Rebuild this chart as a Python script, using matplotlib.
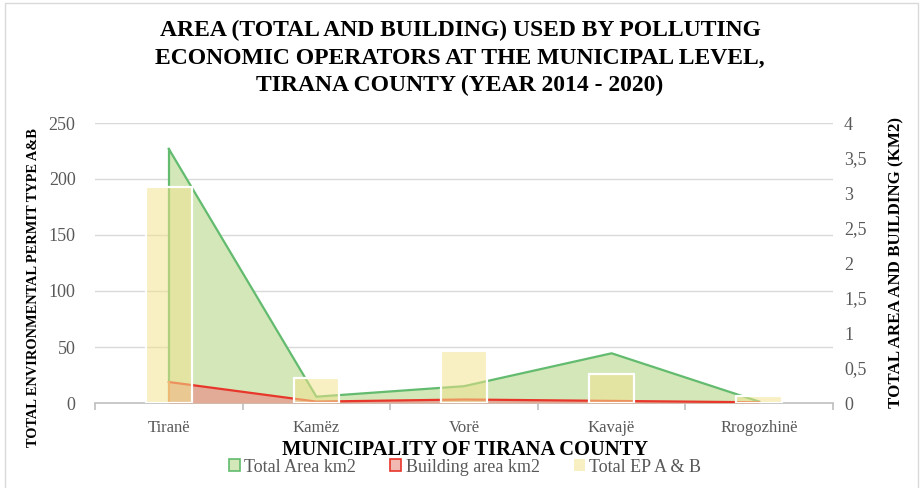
import numpy as np
import matplotlib
matplotlib.use("Agg")
import matplotlib.pyplot as plt
from matplotlib.patches import Patch, Rectangle
from matplotlib.ticker import FuncFormatter, FixedLocator

# Data
categories = ['Tiranë', 'Kamëz', 'Vorë', 'Kavajë', 'Rrogozhinë']
total_ep = [193, 22, 46, 26, 6]                       # Total EP A & B (left axis)
total_area = [3.63, 0.09, 0.24, 0.71, 0.02]           # Total Area km2 (right axis)
building_area = [0.30, 0.02, 0.05, 0.03, 0.01]        # Building area km2 (right axis)
left_ticks = [0, 50, 100, 150, 200, 250]
right_ticks = [0, 0.5, 1, 1.5, 2, 2.5, 3, 3.5, 4]

plt.rcParams['font.family'] = ['Liberation Serif', 'DejaVu Serif']

W, H = 921, 488
fig = plt.figure(figsize=(W / 100, H / 100), dpi=100)

# outer chart frame
fig.patches.append(Rectangle((5 / W, -0.02), 913 / W, 1 - 3 / H + 0.02,
                             transform=fig.transFigure, fill=False,
                             edgecolor='#d9d9d9', linewidth=1))

left, right, top, bottom = 95, 833, 123, 403
ax = fig.add_axes([left / W, 1 - bottom / H, (right - left) / W, (bottom - top) / H])
ax2 = ax.twinx()

x = np.arange(len(categories))
ax.set_xlim(-0.5, len(categories) - 0.5)
ax.set_ylim(right_ticks[0], right_ticks[-1])
ax2.set_ylim(left_ticks[0], left_ticks[-1])

# horizontal gridlines follow the left (permit) scale
for v in left_ticks[1:]:
    ax.axhline(v / left_ticks[-1] * right_ticks[-1], color='#d9d9d9', lw=1, zorder=0)

green_line = '#62bb6e'
green_fill = '#d3e7b8'
red_line = '#e8362b'
red_fill = '#e1ab97'

# area series (km2)
ax.fill_between(x, total_area, color=green_fill, zorder=1, lw=0)
ax.plot(x, total_area, color=green_line, lw=1.6, zorder=2)
ax.plot([x[0], x[0]], [0, total_area[0]], color=green_line, lw=1.6, zorder=2)
ax.fill_between(x, building_area, color=red_fill, zorder=3, lw=0)
ax.plot(x, building_area, color=red_line, lw=1.6, zorder=4)
ax.plot([x[0], x[0]], [0, building_area[0]], color='#ef8a55', lw=1.4, zorder=4)

# permit bars on top
bar_color = (242 / 255, 227 / 255, 141 / 255, 0.53)
ax2.bar(x, total_ep, width=0.31, color=bar_color, edgecolor='white', linewidth=1.6, zorder=5)

# axes styling
for a in (ax, ax2):
    for s in a.spines.values():
        s.set_visible(False)
ax.spines['bottom'].set_visible(True)
ax.spines['bottom'].set_color('#bfbfbf')
ax.spines['bottom'].set_linewidth(1.2)

tick_color = '#595959'
ax.set_xticks(x)
ax.set_xticklabels(categories, fontsize=12, color=tick_color)
ax.xaxis.set_minor_locator(FixedLocator(np.arange(-0.5, len(categories), 1.0)))
ax.tick_params(axis='x', which='major', length=0, pad=12)
ax.tick_params(axis='x', which='minor', length=5, color='#bfbfbf', width=1.2)

# right axis: km2 values (drawn by ax), left axis: permits (drawn by ax2)
ax.yaxis.tick_right()
ax.yaxis.set_label_position('right')
ax.set_yticks(right_ticks)
ax.yaxis.set_major_formatter(FuncFormatter(lambda v, p: ('%g' % v).replace('.', ',')))
ax.tick_params(axis='y', length=0, pad=8, labelsize=13, labelcolor=tick_color)

ax2.yaxis.tick_left()
ax2.yaxis.set_label_position('left')
ax2.set_yticks(left_ticks)
ax2.tick_params(axis='y', length=0, pad=14, labelsize=13, labelcolor=tick_color)

ax2.set_ylabel('TOTAL ENVIRONMENTAL PERMIT TYPE A&B', fontsize=10.4, fontweight='bold')
ax2.yaxis.set_label_coords((40 - left) / (right - left), (bottom - 288) / (bottom - top))
ax.set_ylabel('TOTAL AREA AND BUILDING (KM2)', fontsize=12.2, fontweight='bold', rotation=90)
ax.yaxis.set_label_coords((888 - left) / (right - left), 0.5)

# titles
fig.text(460 / W, 1 - 58 / H,
         'AREA (TOTAL AND BUILDING) USED BY POLLUTING\n'
         'ECONOMIC OPERATORS AT THE MUNICIPAL LEVEL,\n'
         'TIRANA COUNTY (YEAR 2014 - 2020)',
         ha='center', va='center', fontsize=17, fontweight='bold', linespacing=1.4)
fig.text(465 / W, 1 - 450 / H, 'MUNICIPALITY OF TIRANA COUNTY',
         ha='center', va='center', fontsize=14.8, fontweight='bold')

handles = [
    Patch(facecolor=green_fill, edgecolor=green_line, linewidth=1.2),
    Patch(facecolor='#f2b9b3', edgecolor=red_line, linewidth=1.2),
    Patch(facecolor='#f8f0c2', edgecolor='none'),
]
leg = fig.legend(handles, ['Total Area km2', 'Building area km2', 'Total EP A & B'],
                 loc='center', bbox_to_anchor=(465 / W, 1 - 467 / H), ncol=3,
                 frameon=False, fontsize=13, handlelength=0.6, handleheight=0.6,
                 handletextpad=0.25, columnspacing=1.9, borderpad=0)
for t in leg.get_texts():
    t.set_color(tick_color)

fig.savefig('out.png', dpi=100)
